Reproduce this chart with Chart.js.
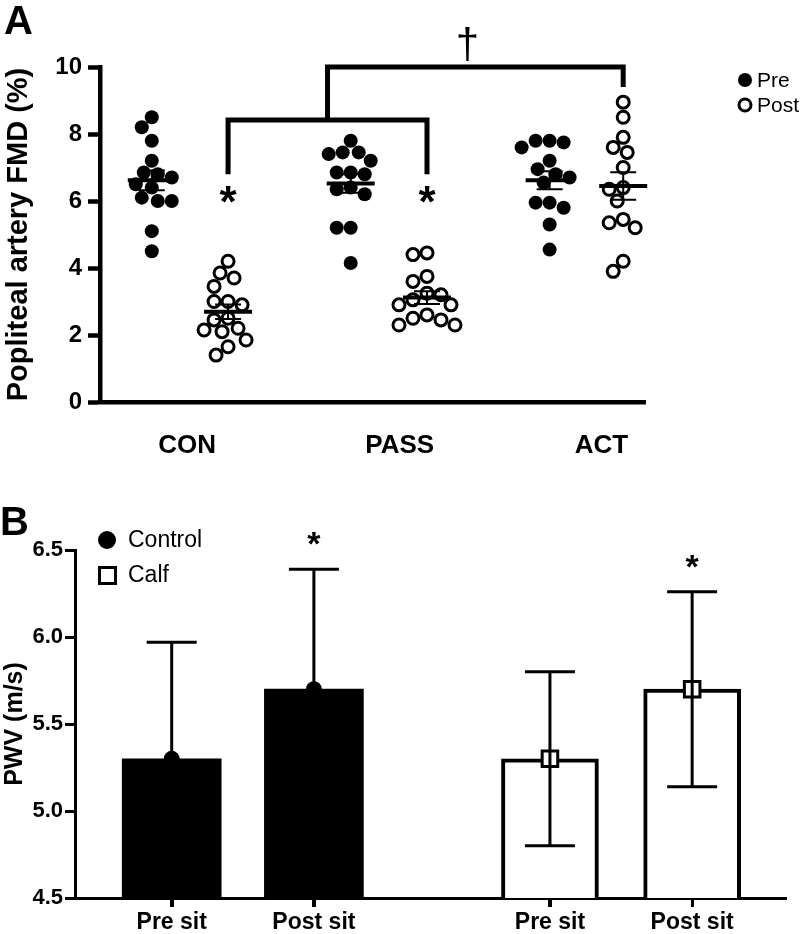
<!DOCTYPE html>
<html>
<head>
<meta charset="utf-8">
<script src="https://cdn.jsdelivr.net/npm/chart.js@4.4.1/dist/chart.umd.min.js"></script>
<style>
  html, body { margin: 0; padding: 0; background: #fff; }
  #fmdChart { position: absolute; left: 0; top: 0; }
  #pwvChart { position: absolute; left: 0; top: 470px; }
</style>
</head>
<body>
<canvas id="fmdChart" width="800" height="470"></canvas>
<canvas id="pwvChart" width="800" height="464"></canvas>
<script>
// ---- panel A data: popliteal artery FMD (%) ----
const groups = ['CON', 'PASS', 'ACT'];
const groupLabelX = [1.6, 5.5, 9.2];
const preX = [0.95, 4.6, 8.25];
const postX = [2.35, 6.0, 9.6];

const conPre = [8.5, 8.2, 7.8, 7.2, 6.85, 6.8, 6.7, 6.5, 6.4, 6.1, 6.0, 6.0, 5.1, 4.5];
const conPost = [4.2, 3.85, 3.7, 3.45, 3.0, 3.0, 2.9, 2.5, 2.45, 2.2, 2.15, 2.1, 1.85, 1.65, 1.4];
const passPre = [7.8, 7.45, 7.45, 7.4, 7.2, 6.85, 6.85, 6.8, 6.4, 6.35, 6.2, 5.2, 5.2, 4.15];
const passPost = [4.45, 4.4, 3.75, 3.6, 3.25, 3.2, 3.05, 2.9, 2.9, 2.6, 2.5, 2.45, 2.3, 2.3];
const actPre = [7.8, 7.8, 7.75, 7.6, 7.2, 6.95, 6.8, 6.7, 6.55, 5.95, 5.95, 5.8, 5.3, 4.55];
const actPost = [8.95, 8.5, 7.9, 7.6, 7.45, 7.0, 6.4, 6.35, 6.0, 5.45, 5.35, 5.2, 4.2, 3.9];

const preSeries = [conPre, passPre, actPre];
const postSeries = [conPost, passPost, actPost];

// ---- panel B data: PWV (m/s) ----
const sitLabels = ['Pre sit', 'Post sit', 'Pre sit', 'Post sit'];
const controlX = [1, 2];
const calfX = [3.66, 4.66];
const controlMean = [5.3, 5.7];
const controlSD = [0.67, 0.69];
const calfMean = [5.3, 5.7];
const calfSD = [0.5, 0.56];

const FONT = '"Liberation Sans", Arial, sans-serif';
Chart.defaults.font.family = FONT;
Chart.defaults.color = '#000';

const mean = a => a.reduce((s, v) => s + v, 0) / a.length;
const sem = a => {
  const m = mean(a);
  const sd = Math.sqrt(a.reduce((s, v) => s + (v - m) * (v - m), 0) / (a.length - 1));
  return sd / Math.sqrt(a.length);
};

function pointsFor(series, xs) {
  const out = [];
  series.forEach((vals, g) => vals.forEach(v => out.push({ x: xs[g], y: v })));
  return out;
}

// spread points sideways so they don't sit on top of each other
function swarm(vals, cx, xs, ys, minDist) {
  const cpx = xs.getPixelForValue(cx);
  const placed = [];
  const res = new Array(vals.length);
  const order = vals.map((v, i) => i).sort((a, b) => vals[b] - vals[a]);
  const offsets = [0];
  for (let s = 2; s <= 40; s += 2) offsets.push(-s, s);
  order.forEach(i => {
    const py = ys.getPixelForValue(vals[i]);
    let off = 0;
    for (const o of offsets) {
      const ok = placed.every(p => Math.hypot(p.x - (cpx + o), p.y - py) >= minDist);
      if (ok) { off = o; break; }
    }
    placed.push({ x: cpx + off, y: py });
    res[i] = { x: xs.getValueForPixel(cpx + off), y: vals[i] };
  });
  return res;
}

const fmdOverlay = {
  id: 'fmdOverlay',
  afterDraw(chart) {
    const { ctx, scales: { x, y } } = chart;
    ctx.save();
    ctx.strokeStyle = '#000';
    ctx.fillStyle = '#000';

    // mean and SEM
    const all = [];
    preSeries.forEach((v, g) => all.push([v, preX[g]]));
    postSeries.forEach((v, g) => all.push([v, postX[g]]));
    all.forEach(([vals, cx]) => {
      const m = mean(vals), se = sem(vals);
      const px = x.getPixelForValue(cx);
      const pm = y.getPixelForValue(m);
      const pt = y.getPixelForValue(m + se), pb = y.getPixelForValue(m - se);
      ctx.lineWidth = 4;
      ctx.beginPath(); ctx.moveTo(px - 24, pm); ctx.lineTo(px + 24, pm); ctx.stroke();
      ctx.lineWidth = 2;
      ctx.beginPath();
      ctx.moveTo(px, pt); ctx.lineTo(px, pb);
      ctx.moveTo(px - 13, pt); ctx.lineTo(px + 13, pt);
      ctx.moveTo(px - 13, pb); ctx.lineTo(px + 13, pb);
      ctx.stroke();
    });

    // brackets
    ctx.lineWidth = 5;
    ctx.lineCap = 'butt';
    const x1 = x.getPixelForValue(postX[0]), x2 = x.getPixelForValue(postX[1]);
    const x3 = x.getPixelForValue(postX[2]);
    const yLow = y.getPixelForValue(8.42), yLeg = y.getPixelForValue(6.8);
    const yTop = y.getPixelForValue(10), yLeg2 = y.getPixelForValue(9.4);
    const xm = (x1 + x2) / 2;
    ctx.beginPath();
    ctx.moveTo(x1, yLeg); ctx.lineTo(x1, yLow); ctx.lineTo(x2, yLow); ctx.lineTo(x2, yLeg);
    ctx.moveTo(xm, yLow); ctx.lineTo(xm, yTop); ctx.lineTo(x3, yTop); ctx.lineTo(x3, yLeg2);
    ctx.stroke();

    // significance marks
    ctx.textAlign = 'center';
    ctx.textBaseline = 'alphabetic';
    ctx.font = 'bold 44px ' + FONT;
    [x1, x2].forEach(px => ctx.fillText('*', px, y.getPixelForValue(6.2) + 23));
    ctx.font = '42px ' + FONT;
    ctx.fillText('\u2020', (xm + x3) / 2 - 8, y.getPixelForValue(10.75) + 16);

    // legend
    ctx.textAlign = 'left';
    ctx.textBaseline = 'middle';
    ctx.font = '21px ' + FONT;
    ctx.beginPath(); ctx.arc(745, 80, 7, 0, Math.PI * 2); ctx.fill();
    ctx.fillText('Pre', 757, 81);
    ctx.lineWidth = 3;
    ctx.beginPath(); ctx.arc(745, 105, 6, 0, Math.PI * 2); ctx.stroke();
    ctx.fillText('Post', 757, 106);

    // panel letter
    ctx.font = 'bold 40px ' + FONT;
    ctx.textBaseline = 'alphabetic';
    ctx.fillText('A', 4, 34);
    ctx.restore();
  }
};

const chartA = new Chart(document.getElementById('fmdChart'), {
  type: 'scatter',
  data: {
    datasets: [
      {
        label: 'Pre',
        data: pointsFor(preSeries, preX),
        pointRadius: 7,
        pointBackgroundColor: '#000',
        pointBorderColor: '#000',
        pointBorderWidth: 0
      },
      {
        label: 'Post',
        data: pointsFor(postSeries, postX),
        pointRadius: 6,
        pointBackgroundColor: '#fff',
        pointBorderColor: '#000',
        pointBorderWidth: 3
      }
    ]
  },
  options: {
    responsive: false,
    animation: false,
    events: [],
    layout: { padding: { left: 0, right: 155, top: 67, bottom: 0 } },
    plugins: { legend: { display: false }, tooltip: { enabled: false } },
    scales: {
      x: {
        type: 'linear',
        min: 0,
        max: 10,
        afterBuildTicks: s => { s.ticks = groupLabelX.map(v => ({ value: v })); },
        afterFit: s => { s.height = 68; },
        grid: { drawOnChartArea: false, drawTicks: false },
        border: { color: '#000', width: 4.5 },
        ticks: {
          autoSkip: false,
          maxRotation: 0,
          padding: 28,
          font: { size: 26, weight: 'bold' },
          callback: (v, i) => groups[i]
        }
      },
      y: {
        min: 0,
        max: 10,
        afterFit: s => { s.width = 100; },
        grid: { drawOnChartArea: false, tickLength: 12, tickColor: '#000', tickWidth: 4.5 },
        border: { color: '#000', width: 4.5 },
        ticks: { stepSize: 2, padding: 6, font: { size: 24, weight: 'bold' } },
        title: {
          display: true,
          text: 'Popliteal artery FMD (%)',
          font: { size: 29, weight: 'bold' },
          padding: { top: 2, bottom: 0 }
        }
      }
    }
  },
  plugins: [fmdOverlay]
});

// swarm the points now that the scales exist
(function () {
  const xs = chartA.scales.x, ys = chartA.scales.y;
  chartA.data.datasets[0].data = [].concat(...preSeries.map((v, g) => swarm(v, preX[g], xs, ys, 14)));
  chartA.data.datasets[1].data = [].concat(...postSeries.map((v, g) => swarm(v, postX[g], xs, ys, 14)));
  chartA.update('none');
})();

const pwvOverlay = {
  id: 'pwvOverlay',
  afterDatasetsDraw(chart) {
    const { ctx, scales: { x, y } } = chart;
    ctx.save();
    ctx.strokeStyle = '#000';
    ctx.fillStyle = '#000';
    ctx.lineWidth = 3;
    const bars = (xs, means, sds) => xs.forEach((xv, i) => {
      const px = x.getPixelForValue(xv);
      const top = y.getPixelForValue(means[i] + sds[i]);
      const bot = y.getPixelForValue(means[i] - sds[i]);
      ctx.beginPath();
      ctx.moveTo(px, top); ctx.lineTo(px, bot);
      ctx.moveTo(px - 25, top); ctx.lineTo(px + 25, top);
      ctx.moveTo(px - 25, bot); ctx.lineTo(px + 25, bot);
      ctx.stroke();
    });
    bars(controlX, controlMean, controlSD);
    bars(calfX, calfMean, calfSD);

    // asterisks over post sit
    ctx.textAlign = 'center';
    ctx.textBaseline = 'alphabetic';
    ctx.font = 'bold 34px ' + FONT;
    ctx.fillText('*', x.getPixelForValue(controlX[1]), y.getPixelForValue(controlMean[1] + controlSD[1] + 0.165) + 15);
    ctx.fillText('*', x.getPixelForValue(calfX[1]), y.getPixelForValue(calfMean[1] + calfSD[1] + 0.165) + 15);
    ctx.restore();
  },
  afterDraw(chart) {
    const { ctx, scales: { x }, chartArea } = chart;
    ctx.save();
    ctx.fillStyle = '#000';
    ctx.strokeStyle = '#000';
    // small tick marks under each bar
    ctx.lineWidth = 3;
    ctx.beginPath();
    controlX.concat(calfX).forEach(v => {
      const px = Math.round(x.getPixelForValue(v)) + 0.5;
      ctx.moveTo(px, chartArea.bottom);
      ctx.lineTo(px, chartArea.bottom + 9);
    });
    ctx.stroke();
    // legend
    ctx.beginPath(); ctx.arc(107, 70, 9, 0, Math.PI * 2); ctx.fill();
    ctx.strokeRect(99.5, 97.5, 16, 16);
    ctx.font = '23px ' + FONT;
    ctx.textAlign = 'left';
    ctx.textBaseline = 'middle';
    ctx.fillText('Control', 128, 71);
    ctx.fillText('Calf', 128, 106);
    // panel letter
    ctx.font = 'bold 40px ' + FONT;
    ctx.textBaseline = 'alphabetic';
    ctx.fillText('B', 0, 65);
    ctx.restore();
  }
};

new Chart(document.getElementById('pwvChart'), {
  type: 'bar',
  data: {
    datasets: [
      {
        label: 'Control',
        data: controlX.map((xv, i) => ({ x: xv, y: controlMean[i] })),
        backgroundColor: '#000',
        borderColor: '#000',
        borderWidth: 0,
        barThickness: 99,
        grouped: false,
        order: 2
      },
      {
        label: 'Calf',
        data: calfX.map((xv, i) => ({ x: xv, y: calfMean[i] })),
        backgroundColor: '#fff',
        borderColor: '#000',
        borderWidth: 4,
        barThickness: 97,
        grouped: false,
        order: 2
      },
      {
        type: 'scatter',
        label: 'Control mean',
        data: controlX.map((xv, i) => ({ x: xv, y: controlMean[i] })),
        pointStyle: 'circle',
        pointRadius: 8,
        pointBackgroundColor: '#000',
        pointBorderWidth: 0,
        order: 1
      },
      {
        type: 'scatter',
        label: 'Calf mean',
        data: calfX.map((xv, i) => ({ x: xv, y: calfMean[i] })),
        pointStyle: 'rect',
        pointRadius: 11,
        pointBackgroundColor: '#fff',
        pointBorderColor: '#000',
        pointBorderWidth: 3,
        order: 1
      }
    ]
  },
  options: {
    responsive: false,
    animation: false,
    events: [],
    layout: { padding: { left: 0, right: 5, top: 80, bottom: 0 } },
    plugins: { legend: { display: false }, tooltip: { enabled: false } },
    scales: {
      x: {
        type: 'linear',
        min: 0.32,
        max: 5.32,
        offset: false,
        afterBuildTicks: s => { s.ticks = controlX.concat(calfX).map(v => ({ value: v })); },
        afterFit: s => { s.height = 36; },
        grid: { offset: false, drawOnChartArea: false, tickLength: 9, tickColor: '#000', tickWidth: 3 },
        border: { color: '#000', width: 3 },
        ticks: {
          autoSkip: false,
          maxRotation: 0,
          padding: 2,
          font: { size: 23, weight: 'bold' },
          callback: (v, i) => sitLabels[i]
        }
      },
      y: {
        min: 4.5,
        max: 6.5,
        afterFit: s => { s.width = 75; },
        grid: { drawOnChartArea: false, tickLength: 10, tickColor: '#000', tickWidth: 3 },
        border: { color: '#000', width: 3 },
        ticks: { stepSize: 0.5, padding: 2, font: { size: 22, weight: 'bold' }, callback: v => v.toFixed(1) },
        title: {
          display: true,
          text: 'PWV (m/s)',
          font: { size: 25, weight: 'bold' },
          padding: { top: 0, bottom: 0 }
        }
      }
    }
  },
  plugins: [pwvOverlay]
});
</script>
</body>
</html>
